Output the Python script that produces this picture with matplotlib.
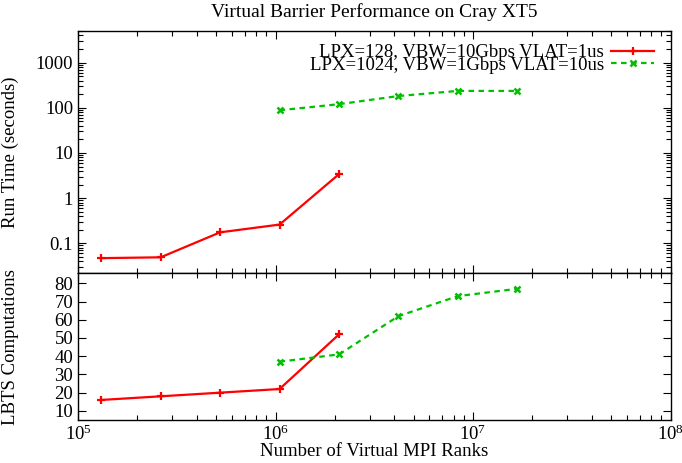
import numpy as np
import matplotlib
matplotlib.use("Agg")
import matplotlib.pyplot as plt
from matplotlib.ticker import LogLocator, NullFormatter, FixedLocator

plt.rcParams['font.family'] = ['Liberation Serif', 'DejaVu Serif']
plt.rcParams['mathtext.fontset'] = 'stix'

# virtual MPI ranks
ranks_a = [131072, 262144, 524288, 1048576, 2097152]
ranks_b = [1048576, 2097152, 4194304, 8388608, 16777216]

# run time (seconds)
time_a = [0.047, 0.049, 0.175, 0.26, 3.4]
time_b = [88, 120, 182, 236, 236]

# LBTS computations
lbts_a = [16, 18, 20, 22, 52]
lbts_b = [37, 41, 62, 73, 77]

label_a = 'LPX=128, VBW=10Gbps VLAT=1us'
label_b = 'LPX=1024, VBW=1Gbps VLAT=10us'

red = '#ff0000'
green = '#00c000'
fs = 13.5

fig = plt.figure(figsize=(6.82, 4.63), dpi=100)
L, R = 78 / 682, 670.5 / 682
ax1 = fig.add_axes([L, 1 - 273.3 / 463, R - L, (273.3 - 31) / 463])
ax2 = fig.add_axes([L, 1 - 420 / 463, R - L, (420 - 273.3) / 463])

ax1.plot(ranks_a, time_a, color=red, lw=1.6, marker='+', ms=6, mew=1.6, label=label_a)
ax1.plot(ranks_b, time_b, color=green, lw=1.6, ls=(0, (2.5, 2)), marker='x', ms=5, mew=1.8, label=label_b)
ax2.plot(ranks_a, lbts_a, color=red, lw=1.6, marker='+', ms=6, mew=1.6)
ax2.plot(ranks_b, lbts_b, color=green, lw=1.6, ls=(0, (2.5, 2)), marker='x', ms=5, mew=1.8)

for ax in (ax1, ax2):
    ax.set_xscale('log')
    ax.set_xlim(1e5, 1e8)
    ax.xaxis.set_major_locator(LogLocator(base=10, numticks=10))
    ax.xaxis.set_minor_locator(LogLocator(base=10, subs=np.arange(2, 10), numticks=20))
    ax.xaxis.set_minor_formatter(NullFormatter())
    ax.tick_params(which='both', direction='in', top=True, right=True, labelsize=fs)
    ax.tick_params(which='major', length=6, width=0.8)
    ax.tick_params(which='minor', length=3.5, width=0.8)
    for s in ax.spines.values():
        s.set_linewidth(1.0)

ax1.set_yscale('log')
ax1.set_ylim(0.0217, 5000)
ax1.yaxis.set_major_locator(FixedLocator([0.1, 1, 10, 100, 1000]))
ax1.set_yticklabels(['0.1', '1', '10', '100', '1000'])
ax1.yaxis.set_minor_locator(LogLocator(base=10, subs=np.arange(2, 10), numticks=20))
ax1.yaxis.set_minor_formatter(NullFormatter())
ax1.tick_params(axis='x', labelbottom=False)
ax1.set_ylabel('Run Time (seconds)', fontsize=fs)
ax1.set_title('Virtual Barrier Performance on Cray XT5', fontsize=fs + 0.5, pad=10)

ax2.set_ylim(5, 85.5)
ax2.set_yticks(np.arange(10, 81, 10))
ax2.tick_params(axis='y', which='minor', left=False, right=False)
ax2.set_xlabel('Number of Virtual MPI Ranks', fontsize=fs, labelpad=-1)
ax2.set_ylabel('LBTS Computations', fontsize=fs)

ax1.yaxis.set_label_coords(-0.1, 0.5)
ax2.yaxis.set_label_coords(-0.1, 0.5)

leg = ax1.legend(loc='upper right', frameon=False, markerfirst=False, fontsize=fs,
                 handlelength=2.3, handletextpad=0.4, labelspacing=-0.25,
                 borderaxespad=0.5, borderpad=0.2, bbox_to_anchor=(0.995, 1.0))

fig.savefig('out.png', dpi=100)
